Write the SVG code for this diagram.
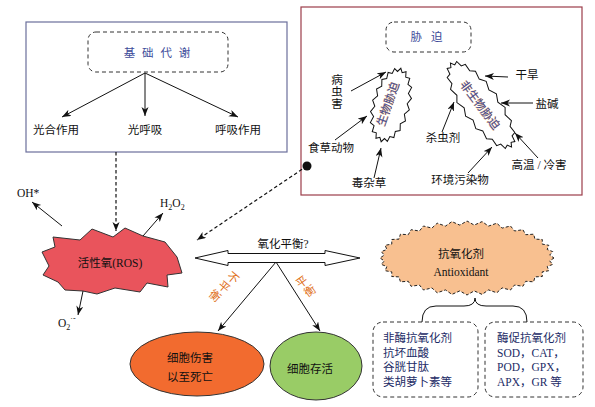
<svg xmlns="http://www.w3.org/2000/svg" width="595" height="407" viewBox="0 0 595 407">
<style>
.t{font-family:"Liberation Serif","Noto Sans CJK SC",serif;font-size:11.5px;fill:#111}
.c{text-anchor:middle}
.blue{fill:#3d4b9a}
.navy{fill:#1c2b66}
.ln{stroke:#111;stroke-width:1;fill:none}
.dash{stroke:#111;stroke-width:1.2;fill:none;stroke-dasharray:3.5,2.5}
.dbox{fill:none;stroke:#333;stroke-width:1;stroke-dasharray:4,3}
.jag{fill:#fff;stroke:#111;stroke-width:1;stroke-linejoin:miter}
.ori{fill:#e07020}
.glow{stroke:#f0a040;stroke-width:0.4;paint-order:stroke}
</style>
<defs>
<marker id="ah" markerUnits="userSpaceOnUse" markerWidth="10" markerHeight="8" refX="9" refY="3.5" orient="auto">
<path d="M0,0 L9,3.5 L0,7 L2.5,3.5 z" fill="#111"/>
</marker>
</defs>
<rect width="595" height="407" fill="#fff"/>

<!-- basic metabolism box -->
<g id="basic-box">
<rect x="26" y="22" width="261" height="130" fill="none" stroke="#6b6f9b" stroke-width="1.2"/>
</g>
<g id="basic-metabolism">
<rect x="88" y="32" width="140" height="40" rx="8" class="dbox"/>
<text x="158" y="57" class="t c blue" font-size="12" letter-spacing="2">基 础 代 谢</text>
</g>
<g id="photosynthesis"><text x="56" y="134" class="t c">光合作用</text></g>
<g id="photorespiration"><text x="145" y="134" class="t c">光呼吸</text></g>
<g id="respiration"><text x="238" y="134" class="t c">呼吸作用</text></g>

<!-- stress box -->
<g id="stress-box">
<rect x="301" y="7" width="281" height="188" fill="none" stroke="#9c3d4a" stroke-width="1.2"/>
</g>
<g id="stress">
<rect x="386" y="22" width="85" height="30" rx="8" class="dbox"/>
<text x="428" y="41" class="t c blue" font-size="12" letter-spacing="3">胁 迫</text>
</g>
<g id="biotic-stress">
<polygon class="jag" transform="translate(391,105) rotate(15)" points="19,0 15.3,5.4 18.1,11.7 13.8,15.7 15.4,22.3 11,24.4 11.2,30.7 7,30.7 5.9,36.1 2.4,34.1 0,38 -2.4,34.1 -5.9,36.1 -7,30.7 -11.2,30.7 -11,24.4 -15.4,22.3 -13.8,15.7 -18.1,11.7 -15.3,5.4 -19,0 -15.3,-5.4 -18.1,-11.7 -13.8,-15.7 -15.4,-22.3 -11,-24.4 -11.2,-30.7 -7,-30.7 -5.9,-36.1 -2.4,-34.1 0,-38 2.4,-34.1 5.9,-36.1 7,-30.7 11.2,-30.7 11,-24.4 15.4,-22.3 13.8,-15.7 18.1,-11.7 15.3,-5.4"/>
<text class="t c blue glow" transform="translate(388,104) rotate(-71)" y="4" font-size="11">生物胁迫</text>
</g>
<g id="abiotic-stress">
<polygon class="jag" transform="translate(481,105) rotate(54)" points="52,0 47.9,2.4 49.5,5.9 43.2,7 42.1,11.2 34.3,11 30.6,15.4 22,13.8 16.1,18.1 7.6,15.3 0,19 -7.6,15.3 -16.1,18.1 -22,13.8 -30.6,15.4 -34.3,11 -42.1,11.2 -43.2,7 -49.5,5.9 -47.9,2.4 -52,0 -47.9,-2.4 -49.5,-5.9 -43.2,-7 -42.1,-11.2 -34.3,-11 -30.6,-15.4 -22,-13.8 -16.1,-18.1 -7.6,-15.3 0,-19 7.6,-15.3 16.1,-18.1 22,-13.8 30.6,-15.4 34.3,-11 42.1,-11.2 43.2,-7 49.5,-5.9 47.9,-2.4"/>
<text class="t c blue glow" transform="translate(480,105) rotate(53)" y="4" font-size="11">非生物胁迫</text>
</g>
<g id="pests">
<text x="337" y="84" class="t c">病</text>
<text x="337" y="96" class="t c">虫</text>
<text x="337" y="108" class="t c">害</text>
</g>
<g id="herbivores"><text x="331" y="152" class="t c">食草动物</text></g>
<g id="weeds"><text x="369" y="187" class="t c">毒杂草</text></g>
<g id="insecticide"><text x="443" y="142" class="t c">杀虫剂</text></g>
<g id="pollutants"><text x="460" y="184" class="t c">环境污染物</text></g>
<g id="drought"><text x="527" y="79" class="t c">干旱</text></g>
<g id="salinity"><text x="547" y="108" class="t c">盐碱</text></g>
<g id="temperature"><text x="539" y="169" class="t c">高温 / 冷害</text></g>

<!-- ROS -->
<g id="ros">
<polygon points="53,237 80,240 92,229 113,237 125,228 143,236 165,242 177,257 182,273 167,275 168,287 147,283 140,292 115,288 97,294 83,291 65,290 58,282 43,275 49,266 42,252 55,247" fill="#e9545c" stroke="#333" stroke-width="1"/>
<text x="110" y="267" class="t c" fill="#222">活性氧(ROS)</text>
</g>
<g id="oh"><text x="17" y="197" class="t">OH*</text></g>
<g id="h2o2"><text x="160" y="207" class="t">H<tspan font-size="8" dy="3">2</tspan><tspan dy="-3">O</tspan><tspan font-size="8" dy="3">2</tspan></text></g>
<g id="o2"><text x="58" y="327" class="t">O<tspan font-size="8" dy="3">2</tspan><tspan font-size="8" dy="-9">·-</tspan></text></g>

<!-- balance -->
<g id="balance">
<polygon points="195,258 228,250.5 228,253.5 325,253.5 325,250.5 360,258 325,265.5 325,262.5 228,262.5 228,265.5" fill="#fff" stroke="#111" stroke-width="1"/>
<text x="283" y="248" class="t c" font-size="12">氧化平衡?</text>
</g>

<!-- outcomes -->
<g id="cell-damage">
<ellipse cx="197" cy="364" rx="67" ry="32" fill="#f26b2f" stroke="#333" stroke-width="1"/>
<text x="190" y="362" class="t c">细胞伤害</text>
<text x="190" y="381" class="t c">以至死亡</text>
</g>
<g id="cell-survival">
<ellipse cx="316" cy="366" rx="46" ry="34" fill="#99cc66" stroke="#333" stroke-width="1"/>
<text x="310" y="373" class="t c">细胞存活</text>
</g>

<!-- antioxidant -->
<g id="antioxidant">
<polygon transform="translate(467,258)" fill="#f8c090" stroke="#222" stroke-width="1" stroke-dasharray="3,2" points="87,0 82.7,2.9 85.7,6.4 80.2,8.5 81.8,12.7 75.2,13.9 75.3,18.5 68,18.9 66.6,23.8 58.7,23.3 55.9,28.3 47.6,27 43.5,32 35.1,29.9 29.8,34.8 21.5,31.9 15.1,36.4 7.2,32.9 0,37 -7.2,32.9 -15.1,36.4 -21.5,31.9 -29.8,34.8 -35.1,29.9 -43.5,32 -47.6,27 -55.9,28.3 -58.7,23.3 -66.6,23.8 -68,18.9 -75.3,18.5 -75.2,13.9 -81.8,12.7 -80.2,8.5 -85.7,6.4 -82.7,2.9 -87,0 -82.7,-2.9 -85.7,-6.4 -80.2,-8.5 -81.8,-12.7 -75.2,-13.9 -75.3,-18.5 -68,-18.9 -66.6,-23.8 -58.7,-23.3 -55.9,-28.3 -47.6,-27 -43.5,-32 -35.1,-29.9 -29.8,-34.8 -21.5,-31.9 -15.1,-36.4 -7.2,-32.9 0,-37 7.2,-32.9 15.1,-36.4 21.5,-31.9 29.8,-34.8 35.1,-29.9 43.5,-32 47.6,-27 55.9,-28.3 58.7,-23.3 66.6,-23.8 68,-18.9 75.3,-18.5 75.2,-13.9 81.8,-12.7 80.2,-8.5 85.7,-6.4 82.7,-2.9"/>
<text x="461" y="258" class="t c">抗氧化剂</text>
<text x="461" y="276" class="t c" font-size="11">Antioxidant</text>
</g>
<g id="non-enzymatic">
<rect x="373" y="322" width="105" height="75" rx="10" class="dbox"/>
<text x="383" y="342" class="t navy">非酶抗氧化剂</text>
<text x="383" y="357" class="t navy">抗坏血酸</text>
<text x="383" y="371" class="t navy">谷胱甘肽</text>
<text x="383" y="386" class="t navy">类胡萝卜素等</text>
</g>
<g id="enzymatic">
<rect x="485" y="322" width="98" height="75" rx="10" class="dbox"/>
<text x="497" y="342" class="t navy">酶促抗氧化剂</text>
<text x="497" y="357" class="t navy">SOD，CAT，</text>
<text x="497" y="371" class="t navy">POD，GPX，</text>
<text x="497" y="386" class="t navy">APX，GR 等</text>
</g>

<!-- connectors -->
<g id="connectors">
<line x1="145" y1="73" x2="62" y2="117" class="ln" marker-end="url(#ah)"/>
<line x1="145" y1="73" x2="145" y2="116" class="ln" marker-end="url(#ah)"/>
<line x1="145" y1="73" x2="238" y2="117" class="ln" marker-end="url(#ah)"/>
<line x1="351" y1="91" x2="386" y2="72" class="ln" marker-end="url(#ah)"/>
<line x1="335" y1="140" x2="367" y2="116" class="ln" marker-end="url(#ah)"/>
<line x1="374" y1="178" x2="381" y2="148" class="ln" marker-end="url(#ah)"/>
<line x1="442" y1="132" x2="454" y2="102" class="ln" marker-end="url(#ah)"/>
<line x1="508" y1="77" x2="485" y2="76" class="ln" marker-end="url(#ah)"/>
<line x1="533" y1="103" x2="501" y2="103" class="ln" marker-end="url(#ah)"/>
<line x1="538" y1="158" x2="515" y2="133" class="ln" marker-end="url(#ah)"/>
<line x1="468" y1="173" x2="492" y2="147" class="ln" marker-end="url(#ah)"/>
<line x1="116" y1="152" x2="116" y2="231" class="dash" marker-end="url(#ah)"/>
<circle cx="307" cy="166" r="4.5" fill="#111"/>
<line x1="307" y1="166" x2="197" y2="240" class="dash" marker-end="url(#ah)"/>
<line x1="62" y1="226" x2="32" y2="202" class="ln" marker-end="url(#ah)"/>
<line x1="143" y1="236" x2="163" y2="213" class="ln" marker-end="url(#ah)"/>
<line x1="83" y1="291" x2="78" y2="315" class="ln" marker-end="url(#ah)"/>
<line x1="276" y1="262" x2="218" y2="331" class="ln" marker-end="url(#ah)"/>
<line x1="276" y1="262" x2="320" y2="331" class="ln" marker-end="url(#ah)"/>
<path d="M422,322 Q422,306 436,306 L464,306 Q475,306 475,298 Q475,306 486,306 L513,306 Q527,306 527,322" class="ln"/>
<text class="t c ori" transform="translate(233,278) rotate(40)" y="4" font-size="10.5">不</text>
<text class="t c ori" transform="translate(224,287) rotate(40)" y="4" font-size="10.5">平</text>
<text class="t c ori" transform="translate(215,296) rotate(40)" y="4" font-size="10.5">衡</text>
<text class="t c ori" transform="translate(302,282) rotate(-35)" y="4" font-size="10.5">平</text>
<text class="t c ori" transform="translate(310,291) rotate(-35)" y="4" font-size="10.5">衡</text>
</g>
</svg>
